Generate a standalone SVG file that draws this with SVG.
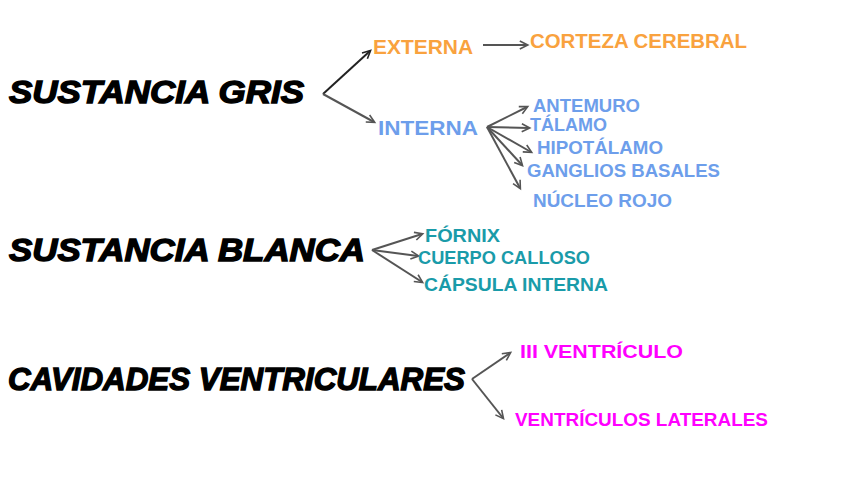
<svg xmlns="http://www.w3.org/2000/svg" width="848" height="477" viewBox="0 0 848 477">
<defs>
<style>
.title{font-family:"Liberation Sans",Arial,sans-serif;font-weight:bold;font-style:italic;font-size:32px;fill:#000;stroke:#000;stroke-width:1.4px}
.lbl{font-family:"Liberation Sans",Arial,sans-serif;font-weight:bold;font-size:20px}
.sm{font-family:"Liberation Sans",Arial,sans-serif;font-weight:bold;font-size:19px}
.or{fill:#F9A23E}
.bl{fill:#6D9EEB}
.tl{fill:#1A9BA9}
.mg{fill:#FF00FF}
.c{fill:none;stroke:#555;stroke-width:2}
.cd{fill:none;stroke:#222;stroke-width:2}
</style>
<marker id="ah" viewBox="0 0 10 10" refX="9" refY="5" markerWidth="8" markerHeight="8" markerUnits="userSpaceOnUse" orient="auto" overflow="visible">
<path d="M0,0 L10,5 L0,10" fill="none" stroke="#555" stroke-width="2"/>
</marker>
<marker id="ahd" viewBox="0 0 10 10" refX="9" refY="5" markerWidth="8" markerHeight="8" markerUnits="userSpaceOnUse" orient="auto" overflow="visible">
<path d="M0,0 L10,5 L0,10" fill="none" stroke="#222" stroke-width="2"/>
</marker>
</defs>
<rect width="848" height="477" fill="#fff"/>
<g id="connectors">
<path class="cd" d="M323,94 L370,51" marker-end="url(#ahd)"/>
<path class="c" d="M323,94 L374,122" marker-end="url(#ah)"/>
<path class="c" d="M483,45 L527,45" marker-end="url(#ah)"/>
<path class="c" d="M487,127 L527,107" marker-end="url(#ah)"/>
<path class="c" d="M487,127 L529,128" marker-end="url(#ah)"/>
<path class="c" d="M487,127 L531,152" marker-end="url(#ah)"/>
<path class="c" d="M487,127 L522,165" marker-end="url(#ah)"/>
<path class="c" d="M487,127 L520,188" marker-end="url(#ah)"/>
<path class="c" d="M372,250 L422,234" marker-end="url(#ah)"/>
<path class="c" d="M372,250 L418,256" marker-end="url(#ah)"/>
<path class="c" d="M372,250 L422,282" marker-end="url(#ah)"/>
<path class="c" d="M472,379 L510,353" marker-end="url(#ah)"/>
<path class="c" d="M472,379 L503,418" marker-end="url(#ah)"/>
</g>
<g id="sustancia-gris"><text class="title" x="9" y="103" textLength="295" lengthAdjust="spacingAndGlyphs">SUSTANCIA GRIS</text></g>
<g id="externa"><text class="lbl or" x="373" y="54" textLength="100" lengthAdjust="spacingAndGlyphs">EXTERNA</text></g>
<g id="corteza"><text class="lbl or" x="530" y="48" textLength="217" lengthAdjust="spacingAndGlyphs">CORTEZA CEREBRAL</text></g>
<g id="interna"><text class="lbl bl" x="378" y="135" textLength="100" lengthAdjust="spacingAndGlyphs">INTERNA</text></g>
<g id="antemuro"><text class="sm bl" x="533" y="112" textLength="107" lengthAdjust="spacingAndGlyphs">ANTEMURO</text></g>
<g id="talamo"><text class="sm bl" x="530" y="131" font-size="18" textLength="77" lengthAdjust="spacingAndGlyphs">TÁLAMO</text></g>
<g id="hipotalamo"><text class="sm bl" x="537" y="154" textLength="126" lengthAdjust="spacingAndGlyphs">HIPOTÁLAMO</text></g>
<g id="ganglios"><text class="sm bl" x="527" y="177" textLength="193" lengthAdjust="spacingAndGlyphs">GANGLIOS BASALES</text></g>
<g id="nucleo"><text class="sm bl" x="533" y="207" textLength="139" lengthAdjust="spacingAndGlyphs">NÚCLEO ROJO</text></g>
<g id="sustancia-blanca"><text class="title" x="9" y="261" textLength="356" lengthAdjust="spacingAndGlyphs">SUSTANCIA BLANCA</text></g>
<g id="fornix"><text class="sm tl" x="425" y="242" textLength="75" lengthAdjust="spacingAndGlyphs">FÓRNIX</text></g>
<g id="cuerpo"><text class="sm tl" x="418" y="264" textLength="172" lengthAdjust="spacingAndGlyphs">CUERPO CALLOSO</text></g>
<g id="capsula"><text class="sm tl" x="424" y="291" textLength="184" lengthAdjust="spacingAndGlyphs">CÁPSULA INTERNA</text></g>
<g id="cavidades"><text class="title" x="8" y="390" textLength="457" lengthAdjust="spacingAndGlyphs">CAVIDADES VENTRICULARES</text></g>
<g id="iii-ventriculo"><text class="sm mg" x="520" y="358" textLength="163" lengthAdjust="spacingAndGlyphs">III VENTRÍCULO</text></g>
<g id="ventriculos-laterales"><text class="sm mg" x="515" y="426" textLength="253" lengthAdjust="spacingAndGlyphs">VENTRÍCULOS LATERALES</text></g>
</svg>
